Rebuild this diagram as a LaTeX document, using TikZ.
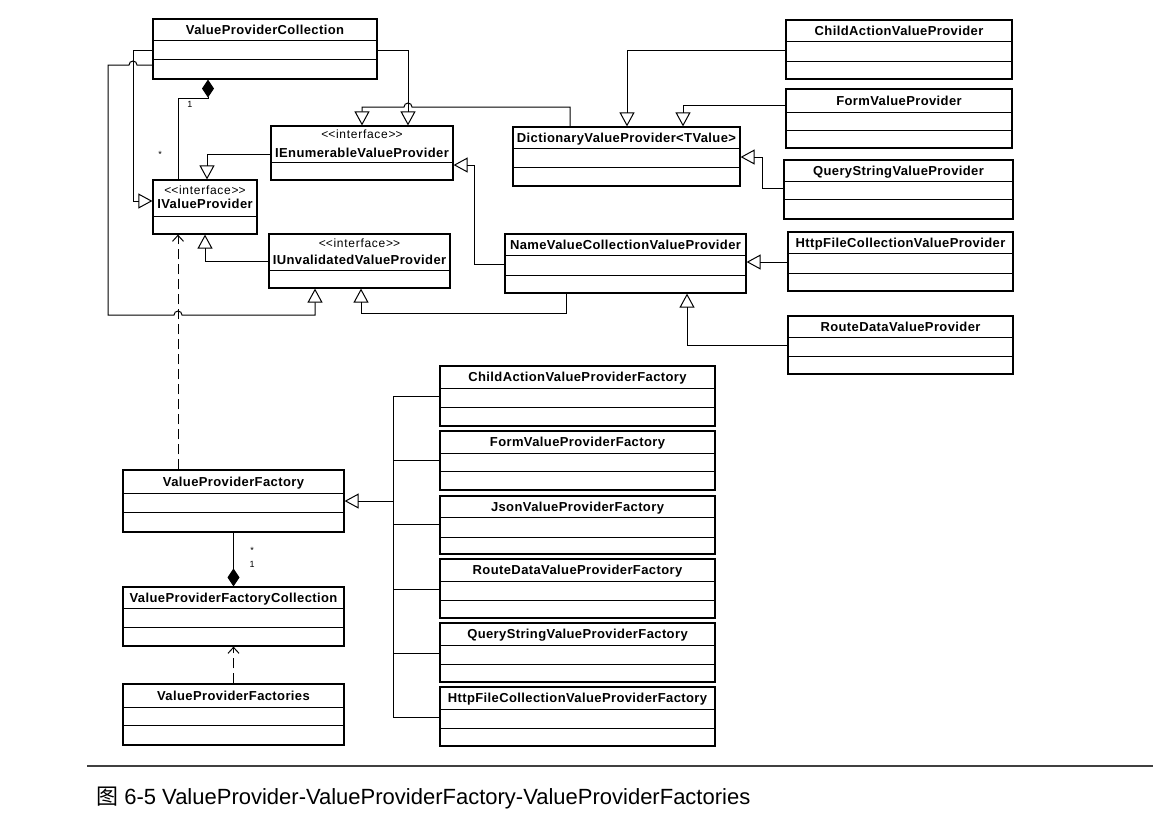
\documentclass[tikz,border=0pt]{standalone}
\usepackage{fontspec}
\setmainfont{Liberation Sans}
\newfontfamily\cjk{Noto Sans CJK SC}
\newfontfamily\umlf[LetterSpace=3]{Liberation Sans}
\newfontfamily\umls[LetterSpace=6]{Liberation Sans}
\usetikzlibrary{arrows.meta}
\tikzset{
  box/.style={draw, line width=1.2pt, inner sep=0pt},
  hdr/.style={font=\umlf\bfseries\fontsize{13}{15}\selectfont, inner sep=0pt, text height=9.3pt, text depth=0pt},
  stereo/.style={font=\umls\fontsize{12}{14}\selectfont, inner sep=0pt, text height=8.6pt, text depth=0pt},
  divl/.style={line width=1pt},
  conn/.style={line width=1pt},
  gen/.style={conn, -{Triangle[open, length=14pt, width=15pt]}},
  comp/.style={conn, -{Diamond[length=18pt, width=12pt]}},
  dep/.style={conn, dash pattern=on 10pt off 5pt, -{Straight Barb[length=6pt, width=11pt]}},
  mult/.style={font=\fontsize{9}{10}\selectfont, inner sep=0pt},
}
% name, x1, y1, x2, y2, divider1, divider2, text
\newcommand\umlbox[8]{%
  \node[box, minimum width={(#4)-(#2)}, minimum height={(#5)-(#3)}] (#1) at ({((#2)+(#4))/2},{((#3)+(#5))/2}) {};
  \draw[divl] (#2,#6) -- (#4,#6);
  \draw[divl] (#2,#7) -- (#4,#7);
  \node[hdr] (#1-t) at ({((#2)+(#4))/2},{((#3)+(#6))/2}) {#8};
}
% name, x1, y1, x2, y2, divider, y stereo, y name, text
\newcommand\umliface[9]{%
  \node[box, minimum width={(#4)-(#2)}, minimum height={(#5)-(#3)}] (#1) at ({((#2)+(#4))/2},{((#3)+(#5))/2}) {};
  \draw[divl] (#2,#6) -- (#4,#6);
  \node[stereo] (#1-s) at ({((#2)+(#4))/2},#7) {<\kern0pt<interface>\kern0pt>};
  \node[hdr] (#1-t) at ({((#2)+(#4))/2},#8) {#9};
}
\begin{document}
\begin{tikzpicture}[x=1pt,y=-1pt]
\useasboundingbox[fill=white] (0,0) rectangle (1153,828);

% classes
\umlbox{vpc}{153}{19}{377}{79}{40}{59}{ValueProviderCollection}
\umliface{ievp}{271}{126}{453}{180}{162}{134}{153}{IEnumerableValueProvider}
\umliface{ivp}{153}{180}{257}{234}{216}{190}{204}{IValueProvider}
\umliface{iuvp}{269}{234}{450}{288}{270}{243}{260}{IUnvalidatedValueProvider}
\umlbox{dvp}{513}{127}{740}{186}{148}{167}{DictionaryValueProvider<TValue>}
\umlbox{nvc}{505}{234}{746}{293}{255}{275}{NameValueCollectionValueProvider}
\umlbox{ca}{786}{20}{1012}{79}{41}{61}{ChildActionValueProvider}
\umlbox{fvp}{786}{89}{1012}{148}{112}{130}{FormValueProvider}
\umlbox{qs}{784}{160}{1013}{219}{181}{199}{QueryStringValueProvider}
\umlbox{hf}{788}{232}{1013}{291}{253}{273}{HttpFileCollectionValueProvider}
\umlbox{rd}{788}{316}{1013}{374}{337}{356}{RouteDataValueProvider}
\umlbox{f1}{440}{366}{715}{426}{388}{407}{ChildActionValueProviderFactory}
\umlbox{f2}{440}{431}{715}{490}{453}{471}{FormValueProviderFactory}
\umlbox{f3}{440}{496}{715}{554}{517}{537}{JsonValueProviderFactory}
\umlbox{f4}{440}{559}{715}{618}{581}{600}{RouteDataValueProviderFactory}
\umlbox{f5}{440}{623}{715}{682}{645}{664}{QueryStringValueProviderFactory}
\umlbox{f6}{440}{687}{715}{746}{709}{728}{HttpFileCollectionValueProviderFactory}
\umlbox{vpf}{123}{470}{344}{532}{493}{512}{ValueProviderFactory}
\umlbox{vpfc}{123}{587}{344}{646}{608}{627}{ValueProviderFactoryCollection}
\umlbox{vpfs}{123}{684}{344}{745}{707}{725}{ValueProviderFactories}

% connectors, upper part
\draw[gen] (vpc.west |- 0,50) -- (133,50) -- (133,201) -- (ivp.west |- 0,201);
\draw[gen] (vpc.west |- 0,65) -- (137,65) arc[start angle=0, end angle=-180, radius=4]
  -- (108,65) -- (108,315) -- (174,315) arc[start angle=180, end angle=360, radius=4]
  -- (315,315) -- (iuvp.south -| 315,0);
\draw[comp] (ivp.north -| 178,0) -- (178,98) -- (208,98) -- (vpc.south -| 208,0);
\node[mult] (m1) at (190,104) {1};
\node[mult] (m2) at (160,154) {*};
\draw[gen] (ievp.west |- 0,154) -- (207,154) -- (ivp.north -| 207,0);
\draw[gen] (iuvp.west |- 0,261) -- (205,261) -- (ivp.south -| 205,0);
\draw[gen] (vpc.east |- 0,50) -- (408,50) -- (ievp.north -| 408,0);
\draw[gen] (dvp.north -| 570,0) -- (570,107) -- (412,107) arc[start angle=0, end angle=-180, radius=4]
  -- (362,107) -- (ievp.north -| 362,0);
\draw[gen] (nvc.west |- 0,264) -- (474,264) -- (474,165) -- (ievp.east |- 0,165);
\draw[gen] (nvc.south -| 566,0) -- (566,313) -- (361,313) -- (iuvp.south -| 361,0);
\draw[gen] (ca.west |- 0,50) -- (627,50) -- (dvp.north -| 627,0);
\draw[gen] (fvp.west |- 0,105) -- (683,105) -- (dvp.north -| 683,0);
\draw[gen] (qs.west |- 0,188) -- (762,188) -- (762,157) -- (dvp.east |- 0,157);
\draw[gen] (hf.west |- 0,262) -- (nvc.east |- 0,262);
\draw[gen] (rd.west |- 0,345) -- (687,345) -- (nvc.south -| 687,0);
\draw[dep] (vpf.north -| 178,0) -- (ivp.south -| 178,0);

% connectors, lower part
\coordinate (jn) at (393,501);
\draw[gen] (jn) -- (vpf.east |- jn);
\draw[conn] (f1.west |- 0,396) -| (jn);
\draw[conn] (f2.west |- 0,460) -| (jn);
\draw[conn] (f3.west |- 0,524) -| (jn);
\draw[conn] (f4.west |- 0,589) -| (jn);
\draw[conn] (f5.west |- 0,653) -| (jn);
\draw[conn] (f6.west |- 0,717) -| (jn);
\draw[comp] (vpf.south) -- (vpfc.north);
\node[mult] (m3) at (252,550) {*};
\node[mult] (m4) at (252,564) {1};
\draw[dep] (vpfs.north) -- (vpfc.south);

% caption
\draw[line width=1.2pt, black!75] (87,766) -- (1153,766);
\node[anchor=base west, inner sep=0pt, font=\fontsize{22}{24}\selectfont] (cap) at (96,804)
  {{\cjk 图} 6-5 ValueProvider-ValueProviderFactory-ValueProviderFactories};
\end{tikzpicture}
\end{document}
